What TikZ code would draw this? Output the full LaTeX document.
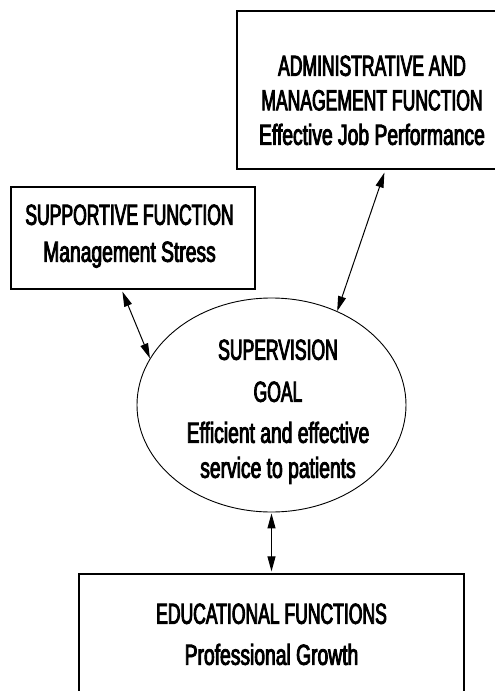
\documentclass[tikz,border=0pt]{standalone}
\usepackage{fontspec}
\setmainfont{Liberation Sans}
\newfontfamily\capf{Liberation Sans}[FakeStretch=0.605,FakeBold=3]
\newfontfamily\lowf{Liberation Sans}[FakeStretch=0.665,FakeBold=3]
\usetikzlibrary{arrows.meta,shapes.geometric}
\begin{document}
\begin{tikzpicture}[x=1pt,y=-1pt,
  boxnode/.style={draw=black,line width=1.2pt,rectangle,inner sep=0pt},
  txt/.style={align=center,inner sep=0pt,text depth=0pt,anchor=south,text=black},
  link/.style={line width=1pt,{Triangle[length=15pt,width=8pt]}-{Triangle[length=15pt,width=8pt]}}
]
\useasboundingbox (0,0) rectangle (495,691);
\clip (0,0) rectangle (495,691);
\fill[white] (0,0) rectangle (495,691);

% boxes and ellipse
\node[boxnode,minimum width=270pt,minimum height=158pt] (adm) at (372,90) {};
\node[boxnode,minimum width=244pt,minimum height=102pt] (sup) at (133,238) {};
\node[boxnode,minimum width=385pt,minimum height=150pt] (edu) at (271.5,649) {};
\node[draw=black,line width=0.9pt,ellipse,inner sep=0pt,minimum width=269pt,minimum height=214pt] (goal) at (271.5,405) {};

% texts
\node[txt,font=\fontsize{29}{34.5}\selectfont] (admtxt) at (372,145)
  {\capf ADMINISTRATIVE AND\\ \capf MANAGEMENT FUNCTION\\ \lowf Effective Job Performance};
\node[txt,font=\fontsize{29}{37}\selectfont] (suptxt) at (129.5,262)
  {\capf SUPPORTIVE FUNCTION\\ \lowf Management Stress};
\node[txt,font=\fontsize{29}{35}\selectfont] (goaltxt) at (278,478)
  {\capf SUPERVISION\\[7pt] \capf GOAL\\[6pt] \lowf Efficient and effective\\ \lowf service to patients};
\node[txt,font=\fontsize{29}{41}\selectfont] (edutxt) at (271.5,665)
  {\capf EDUCATIONAL FUNCTIONS\\ \lowf Professional Growth};

% connector end points
\coordinate (s1) at ([xshift=112pt,yshift=-2pt]sup.south west);
\coordinate (a1) at ([xshift=148pt,yshift=-3pt]adm.south west);
\coordinate (g1) at (goal.159.7);
\coordinate (g2) at (goal.55.7);

\draw[link] (s1) -- (g1);
\draw[link] (a1) -- (g2);
\draw[link] ([yshift=-1pt]goal.south) -- ([yshift=2pt]edu.north);
\end{tikzpicture}
\end{document}
